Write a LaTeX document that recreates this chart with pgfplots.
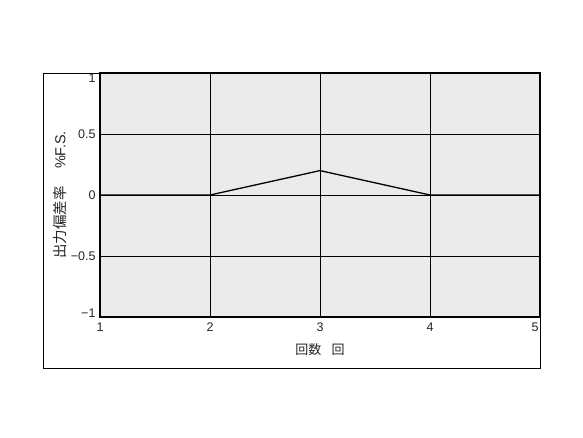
\documentclass[border=0pt]{standalone}
\usepackage{fontspec}
\setmainfont{Liberation Sans}
\newfontfamily\jp{Noto Sans CJK JP}
\usepackage{pgfplots}
\pgfplotsset{compat=1.18}
\begin{document}
\begin{tikzpicture}
\begin{axis}[
    scale only axis,
    width=440pt, height=244pt,
    xmin=1, xmax=5, ymin=-1, ymax=1,
    xtick={1,2,3,4,5},
    ytick={-1,-0.5,0,0.5,1},
    yticklabels={\raisebox{4pt}[\height][\depth]{−1},−0.5,0,0.5,\raisebox{-5pt}[\height][\depth]{1}},
    xticklabels={1,2,3,4,\hspace*{-10pt}5},
    major tick length=0pt,
    grid=major,
    major grid style={black, line width=0.7pt},
    axis line style={black, line width=1.1pt},
    axis background/.style={fill=black!8},
    ticklabel style={font=\fontsize{12.5}{13}\selectfont, text=black!85},
    yticklabel style={xshift=-1pt},
    xticklabel style={yshift=-2pt},
    xlabel={{\jp 回数\hspace{0.8em}回}},
    ylabel={{\jp 出力偏差率}\hspace{1.2em}\%F.S.},
    xlabel style={at={(axis description cs:0.5,-0.135)}, anchor=center, font=\fontsize{13}{13}\selectfont, text=black!85},
    ylabel style={at={(axis description cs:-0.091,0.5)}, anchor=center, font=\fontsize{14.5}{14.5}\selectfont, text=black!85},
]
\addplot[black, line width=1.3pt] coordinates {(1,0) (2,0) (3,0.2) (4,0) (5,0)};
\end{axis}
\draw[black, line width=0.8pt] (-57pt,-51pt) rectangle (440pt,244pt);
\pgfresetboundingbox
\useasboundingbox (-100pt,-120pt) rectangle (483pt,317pt);
\end{tikzpicture}
\end{document}
